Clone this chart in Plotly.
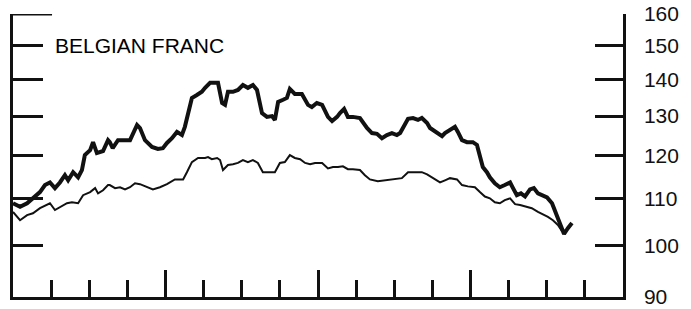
import math
import plotly.graph_objects as go

# Period index in weeks (4 years = 208 weeks)
thick_weeks = [0, 2.4, 4.8, 6.8, 9.2, 10.9, 12.6, 14.3, 16, 17.7, 18.8, 20.5, 22.2, 23.5, 24.5, 26.3,
               27.3, 28.6, 30.7, 32.4, 33, 34, 35.8, 38.2, 39.9, 42.3, 43.3, 45, 47.4, 49.4, 51.1,
               52.5, 54.2, 55.9, 57.6, 58.6, 59.7, 61, 62.7, 64.4, 65.5, 67.2, 68.9, 69.9, 71.3,
               72.3, 73.3, 75, 76.7, 78.4, 80.1, 81.8, 83.2, 84.9, 86.6, 88.3, 89.3, 90.4, 92.1,
               93.4, 94.4, 96.1, 98.5, 100.6, 101.9, 103.6, 105.4, 107.4, 108.8, 110.5, 111.5,
               112.9, 114.2, 115.9, 118.3, 120.7, 122.4, 124.1, 125.8, 127.5, 129.2, 130.9, 132,
               133, 134.7, 136.4, 138.1, 139.4, 141.2, 142.2, 143.9, 146.3, 147.3, 149, 150.7,
               151.7, 153.1, 154.8, 156.8, 158.2, 159.2, 160.2, 161.6, 162.6, 164.3, 166, 167.7,
               169.5, 170.5, 171.8, 173.2, 174.6, 176.3, 177.6, 179, 180.7, 182.1, 183.8, 185.5,
               186.5, 187.9, 189.2, 190.6]
thick_values = [108.9, 108.1, 108.9, 110.0, 111.4, 113.0, 113.6, 112.3, 113.6, 115.3, 114.1, 116.0,
                114.8, 116.5, 120.1, 121.3, 123.3, 120.6, 121.1, 123.8, 123.3, 121.8, 123.8, 123.8,
                123.8, 127.7, 126.9, 123.8, 122.1, 121.6, 121.8, 123.1, 124.3, 125.9, 125.1, 127.2,
                130.8, 134.9, 135.7, 136.6, 137.7, 139.1, 139.1, 139.1, 133.5, 133.0, 136.6, 136.6,
                137.1, 138.5, 137.7, 138.5, 137.1, 130.8, 129.8, 130.0, 129.0, 133.8, 134.4, 134.9,
                137.4, 136.0, 136.0, 133.0, 132.4, 133.5, 133.0, 129.8, 128.7, 129.8, 130.8, 131.9,
                129.8, 129.8, 129.5, 126.9, 125.6, 125.4, 124.3, 125.1, 125.6, 125.1, 125.6, 126.9,
                129.3, 129.5, 129.0, 129.5, 128.2, 126.9, 125.9, 124.8, 125.6, 126.4, 127.2, 125.9,
                123.8, 123.3, 123.3, 122.6, 119.6, 117.2, 116.0, 114.8, 113.4, 112.5, 113.0, 113.6,
                112.3, 110.7, 111.1, 110.4, 112.0, 112.3, 111.1, 110.7, 110.2, 108.9, 105.9, 104.2,
                102.3, 103.5, 104.6]

thin_weeks = [0, 2.4, 4.8, 6.8, 9.2, 11.6, 12.6, 14.3, 16, 18.4, 20.1, 22.2, 23.9, 26.3, 28, 29,
              30.7, 32.4, 33, 34.8, 36.5, 38.2, 39.9, 41.6, 43.3, 45.7, 47.7, 50.1, 52.5, 55.2, 58,
              59.3, 61, 63.1, 65.5, 66.5, 67.8, 69.6, 70.6, 71.6, 73.3, 75, 76.7, 78.4, 80.1, 81.8,
              83.5, 85.2, 86.9, 89.3, 91, 92.7, 94.4, 96.1, 97.9, 99.6, 101.3, 103, 105.4, 107.4,
              109.1, 110.8, 112.5, 114.2, 115.9, 118.3, 120, 121.7, 124.4, 126.8, 130.2, 132.6,
              134.7, 137.1, 139.4, 141.2, 143.2, 145.6, 147.3, 149, 151.4, 153.1, 155.1, 157.5,
              159.2, 160.9, 162.6, 164.3, 166, 167.7, 169.5, 171.2, 172.9, 175.2, 176.9, 179,
              180.7, 182.4, 184.1, 185.8, 187.2]
thin_values = [107.0, 105.2, 106.3, 106.7, 107.8, 108.5, 108.9, 107.4, 108.1, 108.9, 109.1, 108.9,
               110.7, 111.4, 112.3, 111.1, 111.8, 113.0, 113.0, 112.3, 112.5, 112.0, 112.5, 113.4,
               113.2, 112.5, 112.0, 112.5, 113.2, 114.3, 114.3, 116.0, 118.4, 119.4, 119.4, 119.6,
               119.1, 119.4, 118.9, 116.5, 117.7, 117.9, 118.2, 118.9, 118.4, 118.9, 118.2, 116.0,
               116.0, 116.0, 118.2, 118.4, 120.1, 119.4, 119.1, 118.2, 117.9, 118.2, 118.2, 116.9,
               117.2, 117.2, 117.4, 116.7, 116.7, 116.5, 115.3, 114.3, 113.9, 114.1, 114.3, 114.6,
               116.0, 116.0, 116.0, 115.5, 114.6, 113.6, 114.1, 114.6, 114.3, 113.0, 112.7, 112.5,
               111.4, 110.4, 110.0, 109.1, 108.9, 109.6, 110.0, 108.7, 108.5, 108.1, 107.8, 107.0,
               106.5, 105.9, 105.2, 104.2, 102.9]

y_tick_values = [90, 100, 110, 120, 130, 140, 150, 160]
y_tick_labels = ["90", "100", "110", "120", "130", "140", "150", "160"]
year_ticks = [0, 52, 104, 156, 208]
quarter_ticks = [13, 26, 39, 65, 78, 91, 117, 130, 143, 169, 182, 195]
title_text = "BELGIAN FRANC"

FONT = "Liberation Sans, Arial, Helvetica, sans-serif"
INK = "#111111"
yrange = [math.log10(90), math.log10(160) + 1e-6]

fig = go.Figure()
fig.add_trace(go.Scatter(x=thin_weeks, y=thin_values, mode="lines",
                         line=dict(color=INK, width=2), hoverinfo="skip", showlegend=False))
fig.add_trace(go.Scatter(x=thick_weeks, y=thick_values, mode="lines",
                         line=dict(color=INK, width=4), hoverinfo="skip", showlegend=False))
# invisible trace to activate right axis
fig.add_trace(go.Scatter(x=[thick_weeks[0]], y=[thick_values[0]], yaxis="y2", mode="lines",
                         line=dict(width=0), hoverinfo="skip", showlegend=False))

fig.update_layout(
    width=691, height=309,
    margin=dict(l=13, r=68, t=14, b=12, autoexpand=False),
    paper_bgcolor="white", plot_bgcolor="white",
    font=dict(family=FONT, color=INK),
    xaxis=dict(range=[0, 208], showgrid=False, zeroline=False, showline=True, linewidth=3,
               linecolor=INK, ticks="inside", tickvals=year_ticks, ticklen=27, tickwidth=3,
               tickcolor=INK, showticklabels=False, automargin=False,
               minor=dict(ticks="inside", tickvals=quarter_ticks, ticklen=17, tickwidth=3,
                          tickcolor=INK, showgrid=False)),
    yaxis=dict(type="log", range=yrange, showgrid=False, zeroline=False, showline=True,
               linewidth=3, linecolor=INK, ticks="inside", tickvals=y_tick_values[1:],
               ticklen=30, tickwidth=3, tickcolor=INK, showticklabels=False, automargin=False),
    yaxis2=dict(type="log", range=yrange, overlaying="y", side="right", showgrid=False,
                zeroline=False, showline=True, linewidth=2.5, linecolor=INK, ticks="inside",
                tickvals=y_tick_values, ticktext=y_tick_labels, ticklen=28, tickwidth=3,
                tickcolor=INK, ticklabelstandoff=14, automargin=False,
                tickfont=dict(family=FONT, size=21, color=INK)),
    annotations=[dict(text=title_text, x=0.065, y=math.log10(y_tick_values[6]), xref="paper",
                      yref="y", xanchor="left", yanchor="middle", showarrow=False,
                      font=dict(family=FONT, size=21, color="#000000"))],
    shapes=[dict(type="line", xref="paper", yref="y", x0=0, x1=0.064,
                 y0=y_tick_values[-1], y1=y_tick_values[-1], line=dict(color=INK, width=3))],
)

fig.write_html("out.html", config={"displayModeBar": False},
               post_script="document.body.style.margin='0px';")
